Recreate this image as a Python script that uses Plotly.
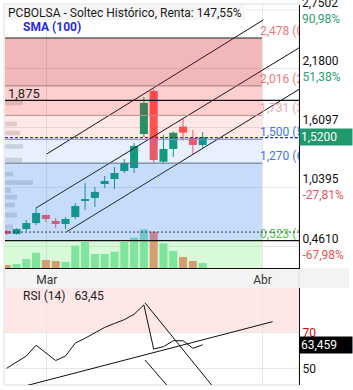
import plotly.graph_objects as go

# ---------------- data ----------------
DATES = ["2025-02-25", "2025-02-26", "2025-02-27", "2025-02-28", "2025-03-03", "2025-03-04",
         "2025-03-05", "2025-03-06", "2025-03-07", "2025-03-10", "2025-03-11", "2025-03-12",
         "2025-03-13", "2025-03-14", "2025-03-17", "2025-03-18", "2025-03-19", "2025-03-20",
         "2025-03-21", "2025-03-24", "2025-03-25"]
OPEN = [0.618, 0.586, 0.634, 0.692, 0.770, 0.712, 0.683, 0.750, 0.910, 0.934, 1.069, 1.117,
        1.194, 1.223, 1.551, 1.966, 1.284, 1.407, 1.622, 1.513, 1.445]
HIGH = [0.625, 0.642, 0.721, 0.837, 0.772, 0.741, 0.750, 0.885, 1.078, 1.040, 1.146, 1.233,
        1.310, 1.465, 1.908, 1.983, 1.542, 1.574, 1.696, 1.590, 1.571]
LOW = [0.580, 0.580, 0.615, 0.673, 0.702, 0.644, 0.634, 0.731, 0.818, 0.847, 1.030, 1.020,
       1.175, 1.175, 1.522, 1.274, 1.271, 1.329, 1.487, 1.358, 1.420]
CLOSE = [0.586, 0.634, 0.692, 0.789, 0.731, 0.683, 0.731, 0.856, 0.918, 0.992, 1.098, 1.175,
         1.271, 1.436, 1.851, 1.300, 1.407, 1.564, 1.564, 1.445, 1.520]
VOLUME = [0.30, 0.40, 0.90, 1.53, 0.80, 0.70, 0.60, 2.23, 2.60, 1.40, 1.40, 1.63, 2.60, 3.03,
          3.87, 3.63, 2.47, 1.70, 1.10, 0.70, 0.50]
RSI = [50.4, 53.7, 57.2, 63.2, 58.9, 54.7, 57.2, 64.4, 67.1, 69.9, 73.1, 75.3, 77.4, 80.4,
       85.6, 61.1, 62.4, 65.7, 65.7, 61.5, 63.45]

FIB_LEVELS = [2.478, 2.016, 1.731, 1.500, 1.270, 0.523]
FIB_LABELS = ["2,478 (0,0%)", "2,016 (23,6%)", "1,731 (38,2%)", "1,500 (50,0%)",
              "1,270 (61,8%)", "0,523 (100,0%)"]
RESISTANCE = 1.875
LAST_PRICE = 1.52
DOTTED_LEVEL = 0.605
LAST_RSI = 63.459

PRICE_TICKS = [0.461, 1.0395, 1.6097, 2.18]
PRICE_TICK_TEXT = ["0,4610", "1,0395", "1,6097", "2,1800"]
PRICE_PCT = ["-67,98%", "-27,81%", "11,73%", "51,38%"]
TOP_TICK, TOP_TICK_TEXT, TOP_TICK_PCT = 2.7502, "2,7502", "90,98%"
MONTH_POS = [4.08, 26.1]
MONTH_LABELS = ["Mar", "Abr"]

PROFILE_PRICE = [1.851, 1.648, 1.561, 1.431, 1.300, 1.165, 1.083, 1.006, 0.943, 0.866, 0.770, 0.654]
PROFILE_VOL = [18, 12, 15, 18, 17, 8, 28, 6, 12, 10, 12, 8]

CHAN_A_X, CHAN_A_Y = [4.08, 26.18], [1.358, 2.652]
CHAN_B_X, CHAN_B_Y = [2.99, 31.0], [0.837, 2.450]
CHAN_C_X, CHAN_C_Y = [6.12, 31.0], [0.608, 2.050]
RSI_L1_X, RSI_L1_Y = [-2.04, 27.14], [35.0, 76.3]
RSI_L2_X, RSI_L2_Y = [14.11, 21.82], [86.8, 35.0]
RSI_L3_X, RSI_L3_Y = [14.11, 17.30], [55.0, 35.0]

# ---------------- geometry helpers ----------------
W, H = 353, 390
ML, MR, MT, MB = 5, 54, 5, 5
PW, PH = W - ML - MR, H - MT - MB


def pxx(px):
    return (px - ML) / PW


def pxy(py):
    return 1 - (py - MT) / PH


XMIN, XMAX = -0.173, 29.83
YMIN, YMAX = 0.258, 2.7965
RMIN, RMAX = 41.1, 95.0
FIB_END = 26.05
FONT = "Roboto"

UP = "#10a070"
DOWN = "#ff5a5a"
VUP = "#8ee6b4"
VDOWN = "#fa8e7d"

n = len(OPEN)
idx = list(range(n))
up = [CLOSE[i] >= OPEN[i] for i in idx]

fig = go.Figure()

# volume bars
fig.add_trace(go.Bar(x=idx, y=VOLUME, width=0.82, xaxis="x", yaxis="y3",
                     marker=dict(color=[VUP if u else VDOWN for u in up], line=dict(width=0)),
                     hoverinfo="skip"))

# volume profile
fig.add_trace(go.Bar(y=PROFILE_PRICE, x=PROFILE_VOL, orientation="h", width=0.045,
                     xaxis="x3", yaxis="y",
                     marker=dict(color="rgba(120,120,130,0.25)", line=dict(width=0)),
                     hoverinfo="skip"))

# wicks
for direction, col in ((True, UP), (False, DOWN)):
    wx, wy = [], []
    for i in idx:
        if up[i] == direction:
            wx += [i, i, None]
            wy += [LOW[i], HIGH[i], None]
    fig.add_trace(go.Scatter(x=wx, y=wy, mode="lines", line=dict(color=col, width=1),
                             xaxis="x", yaxis="y", hoverinfo="skip"))

# bodies
fig.add_trace(go.Bar(x=idx, y=[max(abs(CLOSE[i] - OPEN[i]), 0.009) for i in idx],
                     base=[min(OPEN[i], CLOSE[i]) - (0.0045 if abs(CLOSE[i] - OPEN[i]) < 0.009 else 0) for i in idx],
                     width=0.82, xaxis="x", yaxis="y",
                     marker=dict(color=[UP if u else DOWN for u in up], line=dict(width=0)),
                     hoverinfo="skip"))

# channel lines
for cx, cy in ((CHAN_A_X, CHAN_A_Y), (CHAN_B_X, CHAN_B_Y), (CHAN_C_X, CHAN_C_Y)):
    fig.add_trace(go.Scatter(x=cx, y=cy, mode="lines", line=dict(color="#111", width=1),
                             xaxis="x", yaxis="y", hoverinfo="skip"))

# fib labels (clipped by the plot area)
fib_colors = ["#f07a7a", "#f07a7a", "#f4a8a8", "#3d78e6", "#3d78e6", "#4ccc4c"]
fig.add_trace(go.Scatter(x=[FIB_END - 0.2] * len(FIB_LEVELS), y=[v + 0.058 for v in FIB_LEVELS],
                         mode="text", text=FIB_LABELS, textposition="middle right",
                         textfont=dict(family=FONT, size=12, color=fib_colors),
                         cliponaxis=True, xaxis="x", yaxis="y", hoverinfo="skip"))

# RSI
fig.add_trace(go.Scatter(x=idx, y=RSI, mode="lines", line=dict(color="#111", width=1),
                         xaxis="x2", yaxis="y2", hoverinfo="skip"))
for lx, ly in ((RSI_L1_X, RSI_L1_Y), (RSI_L2_X, RSI_L2_Y), (RSI_L3_X, RSI_L3_Y)):
    fig.add_trace(go.Scatter(x=lx, y=ly, mode="lines", line=dict(color="#111", width=1),
                             xaxis="x2", yaxis="y2", hoverinfo="skip"))

# ---------------- shapes ----------------
shapes = []
shapes.append(dict(type="rect", xref="paper", yref="paper", x0=pxx(4), x1=pxx(349),
                   y0=pxy(268), y1=pxy(288), fillcolor="#f3f3f3", line=dict(width=0), layer="below"))
shapes.append(dict(type="rect", xref="paper", yref="paper", x0=pxx(4), x1=1,
                   y0=pxy(385), y1=pxy(4), fillcolor="rgba(0,0,0,0)",
                   line=dict(color="#dddddd", width=1), layer="below"))
shapes.append(dict(type="rect", xref="x2", yref="y2", x0=XMIN, x1=XMAX, y0=70, y1=RMAX,
                   fillcolor="#fde7e7", line=dict(width=0), layer="below"))
shapes.append(dict(type="line", xref="x", yref="y", x0=XMIN, x1=XMAX, y0=TOP_TICK, y1=TOP_TICK,
                   line=dict(color="#e8e8e8", width=1), layer="below"))

band_fill = ["rgba(200,0,0,0.28)", "rgba(255,0,0,0.19)", "rgba(255,0,0,0.09)",
             "rgba(30,110,240,0.10)", "rgba(30,110,240,0.25)"]
for i in range(5):
    shapes.append(dict(type="rect", xref="x", yref="y", x0=XMIN, x1=FIB_END,
                       y0=FIB_LEVELS[i + 1], y1=FIB_LEVELS[i], fillcolor=band_fill[i],
                       line=dict(width=0), layer="above"))
shapes.append(dict(type="rect", xref="x", yref="y", x0=XMIN, x1=FIB_END, y0=YMIN,
                   y1=FIB_LEVELS[5], fillcolor="rgba(60,230,60,0.2)", line=dict(width=0),
                   layer="above"))

line_cols = ["#222222", "#a07a7a", "#b89090", "#8090a2", "#5f6f80"]
for i in range(5):
    shapes.append(dict(type="line", xref="x", yref="y", x0=XMIN, x1=FIB_END,
                       y0=FIB_LEVELS[i], y1=FIB_LEVELS[i],
                       line=dict(color=line_cols[i], width=1.2 if i == 0 else 1), layer="above"))
shapes.append(dict(type="line", xref="x", yref="y", x0=XMIN, x1=XMAX, y0=FIB_LEVELS[5],
                   y1=FIB_LEVELS[5], line=dict(color="#111", width=1.3), layer="above"))
shapes.append(dict(type="line", xref="x", yref="y", x0=XMIN, x1=XMAX, y0=RESISTANCE,
                   y1=RESISTANCE, line=dict(color="#111", width=1.3), layer="above"))
shapes.append(dict(type="line", xref="x", yref="y", x0=XMIN, x1=XMAX, y0=LAST_PRICE - 0.004,
                   y1=LAST_PRICE - 0.004, line=dict(color="#2233dd", width=1.2, dash="3px,2px"),
                   layer="above"))
shapes.append(dict(type="line", xref="x", yref="y", x0=XMIN, x1=XMAX, y0=DOTTED_LEVEL,
                   y1=DOTTED_LEVEL, line=dict(color="#2a3550", width=1, dash="2px,2px"),
                   layer="above"))
shapes.append(dict(type="rect", xref="paper", yref="paper", x0=pxx(5), x1=pxx(245),
                   y0=pxy(20), y1=pxy(5), fillcolor="rgba(246,246,246,0.95)",
                   line=dict(width=0), layer="above"))

# ---------------- annotations ----------------
ann = []
ann.append(dict(xref="paper", yref="paper", x=pxx(6), y=pxy(12.5), xanchor="left", yanchor="middle",
                text="PCBOLSA - Soltec Histórico, Renta: 147,55%", showarrow=False,
                font=dict(family=FONT, size=12, color="#1a1a1a")))
ann.append(dict(xref="paper", yref="paper", x=pxx(21), y=pxy(27), xanchor="left", yanchor="middle",
                text="<b>SMA (100)</b>", showarrow=False,
                font=dict(family=FONT, size=12, color="#2b2be0")))
ann.append(dict(xref="paper", yref="y", x=pxx(6), y=RESISTANCE, yshift=7, xanchor="left",
                yanchor="middle", text="1,875", showarrow=False,
                font=dict(family=FONT, size=13, color="#222")))
ann.append(dict(xref="paper", yref="y", x=1, y=TOP_TICK, xanchor="left", yanchor="middle",
                xshift=1, yshift=-1,
                text=f"{TOP_TICK_TEXT}<br><span style='color:#2ba36e'>{TOP_TICK_PCT}</span>",
                showarrow=False, align="left", font=dict(family=FONT, size=12, color="#111")))
ann.append(dict(xref="paper", yref="y", x=1, y=LAST_PRICE, xanchor="left", yanchor="middle",
                text="1,5200", showarrow=False, bgcolor="#1f9a6c", width=50, align="left",
                borderpad=1, font=dict(family=FONT, size=12, color="white")))
ann.append(dict(xref="paper", yref="paper", x=pxx(21), y=pxy(296), xanchor="left", yanchor="middle",
                text="RSI (14)   63,45", showarrow=False,
                font=dict(family=FONT, size=12, color="#222")))
ann.append(dict(xref="paper", yref="y2", x=1, y=LAST_RSI, xanchor="left", yanchor="middle",
                text="63,459", showarrow=False, bgcolor="#000", width=50, align="left",
                borderpad=1, font=dict(family=FONT, size=12, color="white")))

pct_col = ["#f05454" if p.startswith("-") else "#2ba36e" for p in PRICE_PCT]
price_ticktext = [f"{t}<br><span style='color:{c}'>{p}</span>"
                  for t, p, c in zip(PRICE_TICK_TEXT, PRICE_PCT, pct_col)]

fig.update_layout(
    width=W, height=H, margin=dict(l=ML, r=MR, t=MT, b=MB, autoexpand=False),
    paper_bgcolor="white", plot_bgcolor="white", showlegend=False, barmode="overlay",
    font=dict(family=FONT, size=12, color="#222"),
    shapes=shapes, annotations=ann, hovermode=False,
    xaxis=dict(domain=[0, 1], anchor="y", range=[XMIN, XMAX], tickvals=MONTH_POS,
               ticktext=MONTH_LABELS, showgrid=True, gridcolor="#e6e6e6", zeroline=False,
               showline=True, linecolor="#111", linewidth=1, ticks="", ticklabelstandoff=1,
               automargin=False, tickfont=dict(family=FONT, size=12, color="#333")),
    yaxis=dict(domain=[pxy(268), 1], anchor="x", range=[YMIN, YMAX], side="right",
               tickvals=PRICE_TICKS, ticktext=price_ticktext, showgrid=True, gridcolor="#e8e8e8",
               zeroline=False, showline=True, linecolor="#111", linewidth=1, ticks="",
               automargin=False, tickfont=dict(family=FONT, size=12, color="#111")),
    yaxis3=dict(overlaying="y", anchor="x", range=[0, 26.3], visible=False),
    xaxis3=dict(overlaying="x", anchor="y", range=[0, PW], visible=False),
    xaxis2=dict(domain=[0, 1], anchor="y2", matches="x", range=[XMIN, XMAX], tickvals=MONTH_POS,
                showticklabels=False, showgrid=True, gridcolor="#e6e6e6", zeroline=False,
                showline=False, ticks="", automargin=False),
    yaxis2=dict(domain=[0, pxy(288)], anchor="x2", range=[RMIN, RMAX], side="right",
                tickvals=[50, 70], ticktext=["50", "<span style='color:#e00000'>70</span>"],
                showgrid=True, gridcolor="#e6e6e6", zeroline=False, showline=True,
                linecolor="#111", linewidth=1, ticks="", automargin=False,
                tickfont=dict(family=FONT, size=12, color="#111")),
)

fig.write_html("out.html")
